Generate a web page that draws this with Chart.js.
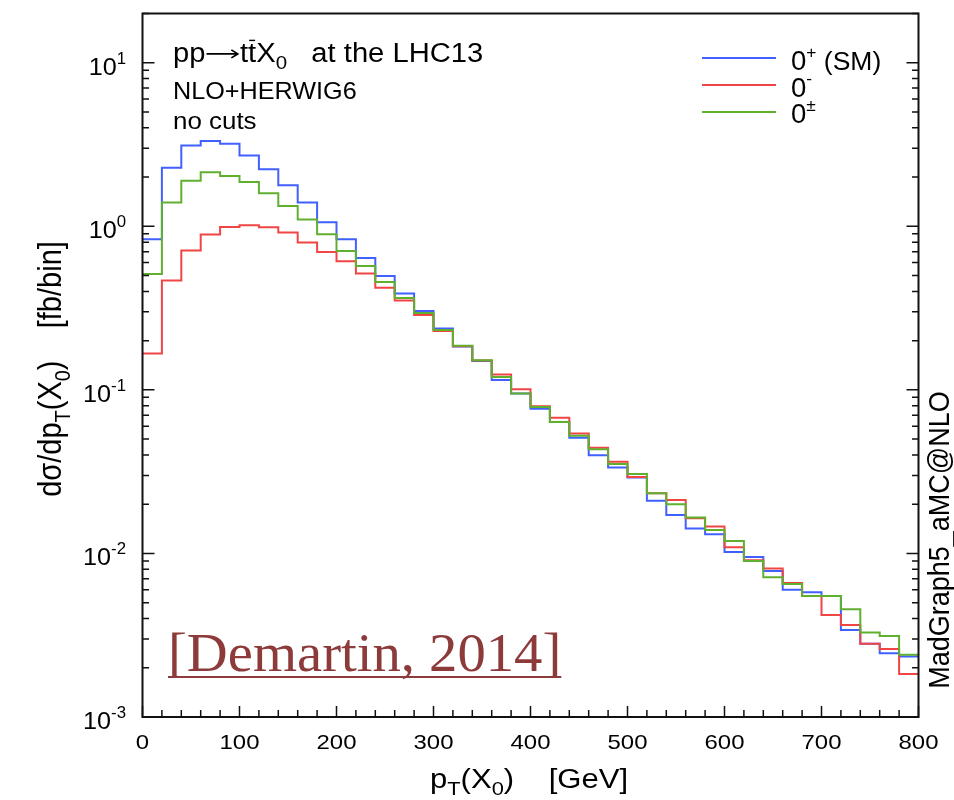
<!DOCTYPE html>
<html>
<head>
<meta charset="utf-8">
<script src="https://cdn.jsdelivr.net/npm/chart.js@4/dist/chart.umd.min.js"></script>
<style>
  html, body { margin: 0; padding: 0; background: #fff; }
  #wrap { width: 954px; height: 800px; position: relative; }
</style>
</head>
<body>
<div id="wrap"><canvas id="ptChart" width="954" height="800"></canvas></div>
<script>
// bin edges of pT(X0) in GeV (20 GeV bins)
const ptEdges = [0, 20, 40, 60, 80, 100, 120, 140, 160, 180, 200, 220, 240, 260, 280, 300, 320, 340, 360, 380,
    400, 420, 440, 460, 480, 500, 520, 540, 560, 580, 600, 620, 640, 660, 680, 700, 720, 740, 760, 780, 800];

// d sigma / d pT per bin [fb/bin]
const sigmaSM = [0.833, 2.28, 3.12, 3.32, 3.20, 2.71, 2.23, 1.78, 1.40, 1.06,
    0.833, 0.640, 0.497, 0.388, 0.304, 0.237, 0.184, 0.150, 0.115, 0.095,
    0.0766, 0.0637, 0.0509, 0.0399, 0.0335, 0.0291, 0.0210, 0.0172, 0.0142, 0.0131,
    0.0102, 0.0095, 0.0078, 0.0060, 0.0058, 0.0055, 0.0034, 0.0028, 0.00245, 0.00234];
const sigmaOdd = [0.167, 0.466, 0.711, 0.890, 0.990, 1.014, 0.986, 0.915, 0.795, 0.697,
    0.611, 0.514, 0.421, 0.352, 0.287, 0.229, 0.185, 0.151, 0.124, 0.101,
    0.0795, 0.0676, 0.0542, 0.0442, 0.0363, 0.0293, 0.0233, 0.0212, 0.0164, 0.0146,
    0.0109, 0.0091, 0.0081, 0.0066, 0.0055, 0.0042, 0.00365, 0.0028, 0.0026, 0.00183];
const sigmaMixed = [0.511, 1.396, 1.902, 2.138, 2.029, 1.865, 1.591, 1.331, 1.099, 0.894,
    0.707, 0.572, 0.457, 0.365, 0.295, 0.232, 0.186, 0.152, 0.120, 0.095,
    0.0787, 0.0637, 0.0525, 0.0434, 0.0352, 0.0306, 0.0233, 0.0200, 0.0166, 0.0139,
    0.0119, 0.0090, 0.00715, 0.0065, 0.0055, 0.0055, 0.00455, 0.00328, 0.00313, 0.0024];

// tick labels
const xTickValues = [0, 100, 200, 300, 400, 500, 600, 700, 800];
const yTickValues = [1e-3, 1e-2, 1e-1, 1, 10];
const yTickExponents = ['-3', '-2', '-1', '0', '1'];

const FONT = '"Liberation Sans", Arial, Helvetica, sans-serif';
const colBlue = '#4060ff', colRed = '#f04545', colGreen = '#60b030';

// histogram points: value of bin i held from edge i to edge i+1
function toSteps(vals) {
    return ptEdges.map((x, i) => ({ x: x, y: vals[Math.min(i, vals.length - 1)] }));
}

// draw text made of runs (sub/superscripts, bar, arrow), optionally rotated / stretched
function drawRuns(ctx, runs, x, y, opts) {
    opts = opts || {};
    ctx.save();
    let w = 0;
    runs.forEach(r => {
        ctx.font = r.size + 'px ' + FONT;
        r.w = r.arrow ? r.len : ctx.measureText(r.t).width;
        w += r.w;
    });
    ctx.translate(x, y);
    if (opts.sx) ctx.scale(opts.sx, 1);
    if (opts.rotate) ctx.rotate(-Math.PI / 2);
    let cx = opts.align === 'center' ? -w / 2 : opts.align === 'right' ? -w : 0;
    const col = opts.color || '#000';
    ctx.fillStyle = col;
    ctx.strokeStyle = col;
    ctx.textBaseline = 'alphabetic';
    ctx.textAlign = 'left';
    runs.forEach(r => {
        if (r.arrow) {
            const ay = -r.size * 0.3;
            ctx.lineWidth = 1.6;
            ctx.beginPath();
            ctx.moveTo(cx + 1, ay); ctx.lineTo(cx + r.w - 2, ay);
            ctx.moveTo(cx + r.w - 8, ay - 4); ctx.lineTo(cx + r.w - 2, ay); ctx.lineTo(cx + r.w - 8, ay + 4);
            ctx.stroke();
        } else {
            ctx.font = r.size + 'px ' + FONT;
            ctx.fillText(r.t, cx, r.dy || 0);
        }
        if (r.bar) {
            ctx.lineWidth = 1.4;
            ctx.beginPath();
            ctx.moveTo(cx + 1, -r.size * 0.8);
            ctx.lineTo(cx + r.w - 1, -r.size * 0.8);
            ctx.stroke();
        }
        cx += r.w;
    });
    ctx.restore();
}

const decorPlugin = {
    id: 'decor',
    afterDraw(chart) {
        const ctx = chart.ctx;
        const a = chart.chartArea;
        const xs = chart.scales.x, ys = chart.scales.y;
        ctx.save();
        ctx.strokeStyle = '#111';
        ctx.lineWidth = 1.5;

        // x ticks (inward), minor every 20 GeV
        ctx.beginPath();
        ptEdges.forEach(v => {
            const px = xs.getPixelForValue(v);
            const len = (v % 100 === 0) ? 11 : 7;
            ctx.moveTo(px, a.bottom);
            ctx.lineTo(px, a.bottom - len);
        });
        // y ticks (inward, left and right)
        for (let d = -3; d <= 1; d++) {
            for (let m = 1; m <= 9; m++) {
                const v = m * Math.pow(10, d);
                if (v < ys.min || v > ys.max) continue;
                const py = ys.getPixelForValue(v);
                const len = m === 1 ? 12 : 6.5;
                ctx.moveTo(a.left, py); ctx.lineTo(a.left + len, py);
                ctx.moveTo(a.right, py); ctx.lineTo(a.right - len, py);
            }
        }
        ctx.stroke();

        // frame
        ctx.lineWidth = 2;
        ctx.strokeRect(a.left, a.top, a.right - a.left, a.bottom - a.top);

        // x tick labels
        xTickValues.forEach(v => {
            drawRuns(ctx, [{ t: String(v), size: 21 }], xs.getPixelForValue(v), 749, { align: 'center', sx: 1.14 });
        });

        // y tick labels 10^n
        yTickValues.forEach((v, i) => {
            const py = ys.getPixelForValue(v);
            drawRuns(ctx, [{ t: '10', size: 24 }, { t: yTickExponents[i], size: 16, dy: -11 }], 126, py + 12,
                { align: 'right', sx: 1.05 });
        });

        // axis titles
        drawRuns(ctx, [
            { t: 'p', size: 27 }, { t: 'T', size: 19, dy: 7 }, { t: '(X', size: 27 },
            { t: '0', size: 19, dy: 7 }, { t: ')    [GeV]', size: 27 }
        ], 529, 788, { align: 'center', sx: 1.15 });
        drawRuns(ctx, [
            { t: 'dσ/dp', size: 29 }, { t: 'T', size: 20, dy: 8 }, { t: '(X', size: 29 },
            { t: '0', size: 20, dy: 8 }, { t: ')    [fb/bin]', size: 29 }
        ], 61, 369, { align: 'center', rotate: true, sx: 1.12 });

        // process labels
        drawRuns(ctx, [
            { t: 'pp', size: 27 }, { arrow: true, len: 32, size: 27 }, { t: 't', size: 27 },
            { t: 't', size: 27, bar: true }, { t: 'X', size: 27 },
            { t: '0', size: 19, dy: 7 }, { t: '   at the LHC13', size: 27 }
        ], 173, 62, { sx: 1.08 });
        drawRuns(ctx, [{ t: 'NLO+HERWIG6', size: 24 }], 173, 99, { sx: 1.05 });
        drawRuns(ctx, [{ t: 'no cuts', size: 24 }], 173, 129, { sx: 1.08 });

        // legend
        const legend = [
            { col: colBlue, y: 58, runs: [{ t: '0', size: 27 }, { t: '+', size: 17, dy: -12 }, { t: ' (SM)', size: 26 }], by: 70 },
            { col: colRed, y: 85, runs: [{ t: '0', size: 27 }, { t: '-', size: 17, dy: -13 }], by: 97 },
            { col: colGreen, y: 112, runs: [{ t: '0', size: 27 }, { t: '±', size: 17, dy: -12 }], by: 123 }
        ];
        legend.forEach(l => {
            ctx.strokeStyle = l.col;
            ctx.lineWidth = 2;
            ctx.beginPath();
            ctx.moveTo(702, l.y); ctx.lineTo(776, l.y);
            ctx.stroke();
            drawRuns(ctx, l.runs, 791, l.by, { sx: 1.02 });
        });

        // generator label on the right
        drawRuns(ctx, [{ t: 'MadGraph5_aMC@NLO', size: 27 }], 949, 540, { align: 'center', rotate: true, sx: 1.08 });

        // citation
        ctx.save();
        ctx.translate(168, 671);
        ctx.scale(1.03, 1);
        ctx.font = '55px "Liberation Serif", "DejaVu Serif", serif';
        ctx.textAlign = 'left';
        ctx.textBaseline = 'alphabetic';
        ctx.fillStyle = '#8c3a3a';
        const cite = '[Demartin, 2014]';
        ctx.fillText(cite, 0, 0);
        const cw = ctx.measureText(cite).width;
        ctx.strokeStyle = '#8c3a3a';
        ctx.lineWidth = 2;
        ctx.beginPath();
        ctx.moveTo(0, 6); ctx.lineTo(cw, 6);
        ctx.stroke();
        ctx.restore();

        ctx.restore();
    }
};

const ctx = document.getElementById('ptChart').getContext('2d');
const ptChart = new Chart(ctx, {
    type: 'line',
    data: {
        datasets: [
            { label: '0± ', data: toSteps(sigmaMixed), borderColor: colGreen, order: 0 },
            { label: '0-', data: toSteps(sigmaOdd), borderColor: colRed, order: 1 },
            { label: '0+ (SM)', data: toSteps(sigmaSM), borderColor: colBlue, order: 2 }
        ].map(d => Object.assign(d, { stepped: 'before', borderWidth: 2, pointRadius: 0, fill: false, tension: 0 }))
    },
    options: {
        responsive: false,
        animation: false,
        events: [],
        layout: { padding: { top: 13.5, right: 35.5, left: 0, bottom: 0 } },
        plugins: { legend: { display: false }, tooltip: { enabled: false } },
        scales: {
            x: {
                type: 'linear', min: 0, max: 800,
                grid: { display: false }, border: { display: false },
                ticks: { display: false, stepSize: 100 },
                afterFit: s => { s.height = 83; }
            },
            y: {
                type: 'logarithmic', min: 0.001, max: 20,
                grid: { display: false }, border: { display: false },
                ticks: { display: false },
                afterBuildTicks: s => { s.ticks = yTickValues.map(v => ({ value: v })); },
                afterFit: s => { s.width = 142.5; }
            }
        }
    },
    plugins: [decorPlugin]
});
</script>
</body>
</html>
